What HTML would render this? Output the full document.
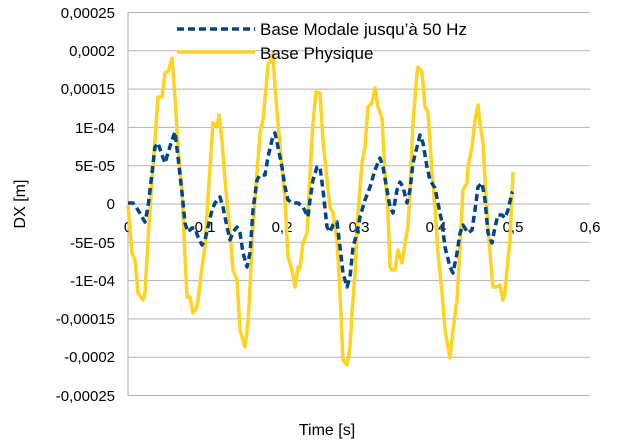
<!DOCTYPE html>
<html><head><meta charset="utf-8"><style>body{margin:0;background:#fff}svg{display:block}</style></head><body>
<svg width="623" height="448" xmlns="http://www.w3.org/2000/svg" font-family="Liberation Sans, sans-serif" font-size="15">
<g stroke="#b3b3b3" stroke-width="1">
<line x1="128" y1="12.5" x2="590" y2="12.5"/><line x1="128" y1="50.8" x2="590" y2="50.8"/><line x1="128" y1="89.1" x2="590" y2="89.1"/><line x1="128" y1="127.4" x2="590" y2="127.4"/><line x1="128" y1="165.7" x2="590" y2="165.7"/><line x1="128" y1="204" x2="590" y2="204"/><line x1="128" y1="242.3" x2="590" y2="242.3"/><line x1="128" y1="280.6" x2="590" y2="280.6"/><line x1="128" y1="318.9" x2="590" y2="318.9"/><line x1="128" y1="357.2" x2="590" y2="357.2"/><line x1="128" y1="395.5" x2="590" y2="395.5"/>
<line x1="128" y1="12" x2="128" y2="396"/>
</g>
<g text-anchor="end" fill="#000">
<text x="115" y="18">0,00025</text><text x="115" y="56">0,0002</text><text x="115" y="94">0,00015</text><text x="115" y="133">1E-04</text><text x="115" y="171">5E-05</text><text x="115" y="209">0</text><text x="115" y="248">-5E-05</text><text x="115" y="286">-1E-04</text><text x="115" y="324">-0,00015</text><text x="115" y="362">-0,0002</text><text x="115" y="401">-0,00025</text>
</g>
<g text-anchor="middle">
<text x="128" y="232">0</text><text x="205" y="232">0,1</text><text x="282" y="232">0,2</text><text x="359" y="232">0,3</text><text x="436" y="232">0,4</text><text x="513" y="232">0,5</text><text x="590" y="232">0,6</text>
<text x="327" y="435" font-size="16">Time [s]</text>
<text transform="translate(25,204) rotate(-90)" font-size="16">DX [m]</text>
</g>
<polyline fill="none" stroke="#ffd320" stroke-width="3.5" stroke-linejoin="round" points="128,205 132,253 135,260 138,293 143,300 145,293 148,240 152,180 155,140 158,97 162,97 165,73 168,72 172,58 175,97 178,147 182,190 185,257 187,297 190,297 193,313 197,307 198,300 202,267 205,247 208,197 213,123 217,127 219,115 222,140 225,180 230,233 233,270 237,280 240,330 245,347 248,323 250,287 253,227 257,173 260,133 263,120 267,77 268,65 272,58 273,53 275,87 278,123 282,167 285,200 288,257 292,270 295,287 298,267 300,268 303,243 307,233 310,173 313,123 316,92 320,93 323,140 327,180 330,207 333,213 337,240 340,293 343,360 347,365 350,347 352,313 355,273 358,213 362,163 365,147 368,107 372,103 375,88 378,107 382,118 385,173 388,213 390,267 392,270 395,270 398,250 402,263 405,243 408,227 410,190 413,123 417,73 418,67 422,72 425,107 428,112 432,173 435,207 438,253 442,293 445,330 448,347 450,358 453,330 457,300 460,247 463,190 467,183 468,167 472,147 475,120 478,105 480,123 483,143 485,180 488,227 492,277 493,287 497,287 500,285 503,300 505,293 507,270 510,240 513,172"/>
<polyline fill="none" stroke="#004586" stroke-width="3.5" stroke-dasharray="7,4" stroke-linejoin="round" points="128,203 133,203 138,210 145,222 148,207 152,173 155,147 158,143 162,155 165,163 168,153 172,140 175,132 178,157 182,193 185,223 188,232 192,228 195,228 198,237 202,245 205,240 208,227 212,210 215,203 220,197 223,207 227,227 230,240 233,232 237,227 240,233 243,253 247,267 250,253 253,210 257,180 260,175 265,175 268,157 272,140 275,133 278,147 282,167 285,187 288,200 293,203 298,203 303,207 308,217 310,200 313,180 317,167 320,167 323,190 327,227 330,232 333,225 337,222 340,247 343,273 347,287 350,277 353,247 357,233 360,217 365,200 370,187 375,170 380,158 383,167 387,190 390,207 393,213 397,190 400,182 403,187 407,203 410,190 413,163 417,147 420,135 423,143 427,167 430,180 435,188 438,203 442,223 445,247 450,267 453,273 457,253 460,233 463,225 468,233 472,230 475,210 478,187 482,183 485,200 488,233 492,243 495,227 498,215 502,215 505,218 508,210 512,193 513,192"/>
<line x1="177" y1="29" x2="255" y2="29" stroke="#004586" stroke-width="3.5" stroke-dasharray="7,4"/>
<line x1="177" y1="52" x2="255" y2="52" stroke="#ffd320" stroke-width="3.5"/>
<text x="260" y="35" font-size="17">Base Modale jusqu’à 50 Hz</text>
<text x="260" y="59" font-size="17">Base Physique</text>
</svg>
</body></html>
